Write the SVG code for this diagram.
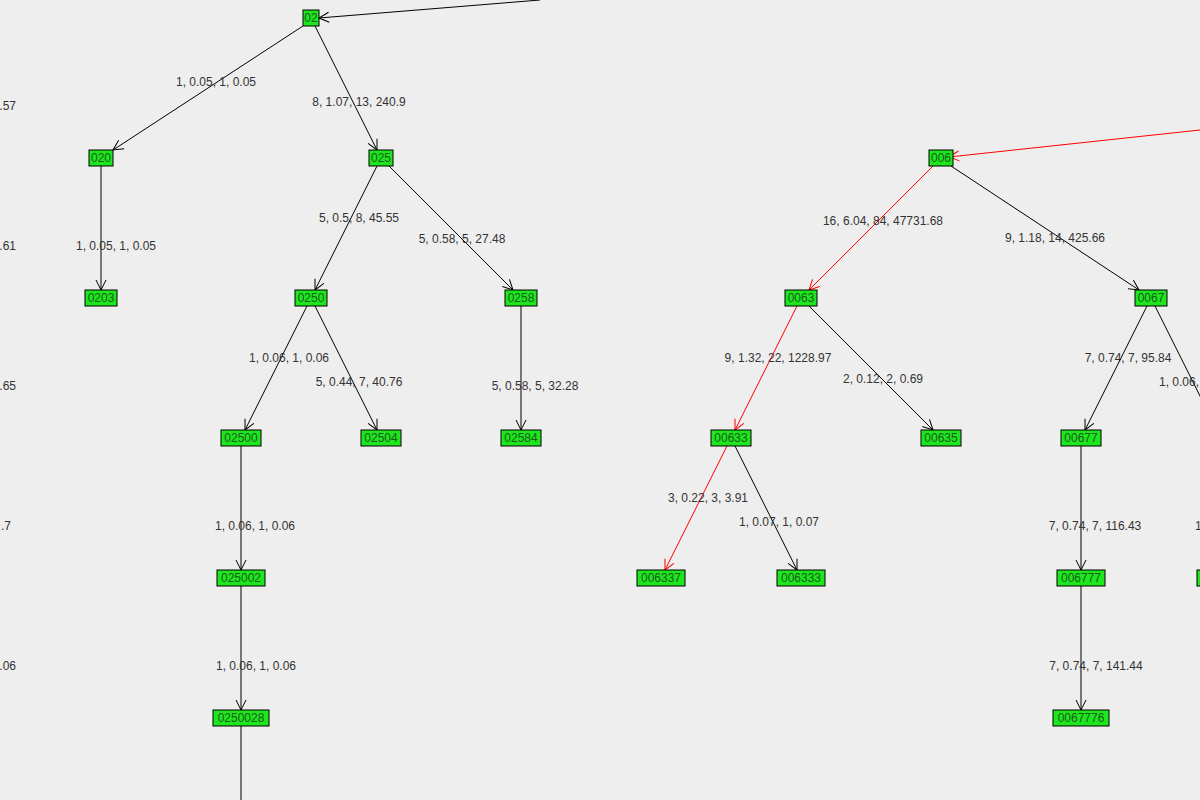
<svg xmlns="http://www.w3.org/2000/svg" width="1200" height="800" viewBox="0 0 1200 800">
<style>
.n rect{fill:#1ee61e;stroke:#000;stroke-width:1}
.n text{font-family:"Liberation Sans",Arial,sans-serif;font-size:12px;fill:#1a5a1a;text-anchor:middle}
.e line{stroke:#000;stroke-width:1;marker-end:url(#a)}
.e line.r{stroke:#f00;marker-end:url(#ar)}
.l text{font-family:"Liberation Sans",Arial,sans-serif;font-size:12px;fill:#333;text-anchor:middle}
</style>
<defs>
<marker id="a" viewBox="0 0 12 12" refX="11" refY="6" markerWidth="12" markerHeight="12" markerUnits="userSpaceOnUse" orient="auto"><path d="M1,1 L11,6 L1,11" fill="none" stroke="#000"/></marker>
<marker id="ar" viewBox="0 0 12 12" refX="11" refY="6" markerWidth="12" markerHeight="12" markerUnits="userSpaceOnUse" orient="auto"><path d="M1,1 L11,6 L1,11" fill="none" stroke="#f00"/></marker>
</defs>
<rect width="1200" height="800" fill="#eeeeee"/>
<g class="e" id="connectors">
<line x1="540" y1="0" x2="319" y2="18"/>
<line x1="1200" y1="130" x2="949" y2="157" class="r"/>
<line x1="303" y1="26" x2="113" y2="150"/>
<line x1="315" y1="26" x2="377" y2="150"/>
<line x1="101" y1="166" x2="101" y2="290"/>
<line x1="377" y1="166" x2="315" y2="290"/>
<line x1="389" y1="166" x2="513" y2="290"/>
<line x1="307" y1="306" x2="245" y2="430"/>
<line x1="315" y1="306" x2="377" y2="430"/>
<line x1="521" y1="306" x2="521" y2="430"/>
<line x1="241" y1="446" x2="241" y2="570"/>
<line x1="241" y1="586" x2="241" y2="710"/>
<line x1="241" y1="726" x2="241" y2="800" style="marker-end:none"/>
<line x1="933" y1="166" x2="809" y2="290" class="r"/>
<line x1="951" y1="166" x2="1139" y2="290"/>
<line x1="797" y1="306" x2="735" y2="430" class="r"/>
<line x1="809" y1="306" x2="933" y2="430"/>
<line x1="1147" y1="306" x2="1085" y2="430"/>
<line x1="1155" y1="306" x2="1221" y2="438" style="marker-end:none"/>
<line x1="727" y1="446" x2="665" y2="570" class="r"/>
<line x1="735" y1="446" x2="797" y2="570"/>
<line x1="1081" y1="446" x2="1081" y2="570"/>
<line x1="1081" y1="586" x2="1081" y2="710"/>
</g>
<g class="l" id="labels">
<text x="216" y="86">1, 0.05, 1, 0.05</text>
<text x="359" y="106">8, 1.07, 13, 240.9</text>
<text x="16" y="110" style="text-anchor:end">.57</text>
<text x="16" y="250" style="text-anchor:end">.61</text>
<text x="16" y="390" style="text-anchor:end">.65</text>
<text x="11" y="530" style="text-anchor:end">.7</text>
<text x="16" y="670" style="text-anchor:end">.06</text>
<text x="116" y="250">1, 0.05, 1, 0.05</text>
<text x="359" y="222">5, 0.5, 8, 45.55</text>
<text x="462" y="243">5, 0.58, 5, 27.48</text>
<text x="289" y="362">1, 0.06, 1, 0.06</text>
<text x="359" y="386">5, 0.44, 7, 40.76</text>
<text x="535" y="390">5, 0.58, 5, 32.28</text>
<text x="255" y="530">1, 0.06, 1, 0.06</text>
<text x="256" y="670">1, 0.06, 1, 0.06</text>
<text x="883" y="225">16, 6.04, 84, 47731.68</text>
<text x="1055" y="242">9, 1.18, 14, 425.66</text>
<text x="778" y="362">9, 1.32, 22, 1228.97</text>
<text x="883" y="383">2, 0.12, 2, 0.69</text>
<text x="708" y="502">3, 0.22, 3, 3.91</text>
<text x="779" y="526">1, 0.07, 1, 0.07</text>
<text x="1128" y="362">7, 0.74, 7, 95.84</text>
<text x="1159" y="386" style="text-anchor:start">1, 0.06, 1, 0.06</text>
<text x="1195" y="530" style="text-anchor:start">1, 0.06, 1, 0.06</text>
<text x="1095" y="530">7, 0.74, 7, 116.43</text>
<text x="1096" y="670">7, 0.74, 7, 141.44</text>
</g>
<g class="n" id="n02"><rect x="303" y="10" width="16" height="16"/><text x="311" y="22">02</text></g>
<g class="n" id="n020"><rect x="89" y="150" width="24" height="16"/><text x="101" y="162">020</text></g>
<g class="n" id="n025"><rect x="369" y="150" width="24" height="16"/><text x="381" y="162">025</text></g>
<g class="n" id="n0203"><rect x="85" y="290" width="32" height="16"/><text x="101" y="302">0203</text></g>
<g class="n" id="n0250"><rect x="295" y="290" width="32" height="16"/><text x="311" y="302">0250</text></g>
<g class="n" id="n0258"><rect x="505" y="290" width="32" height="16"/><text x="521" y="302">0258</text></g>
<g class="n" id="n02500"><rect x="221" y="430" width="40" height="16"/><text x="241" y="442">02500</text></g>
<g class="n" id="n02504"><rect x="361" y="430" width="40" height="16"/><text x="381" y="442">02504</text></g>
<g class="n" id="n02584"><rect x="501" y="430" width="40" height="16"/><text x="521" y="442">02584</text></g>
<g class="n" id="n025002"><rect x="217" y="570" width="48" height="16"/><text x="241" y="582">025002</text></g>
<g class="n" id="n0250028"><rect x="213" y="710" width="56" height="16"/><text x="241" y="722">0250028</text></g>
<g class="n" id="n006"><rect x="929" y="150" width="24" height="16"/><text x="941" y="162">006</text></g>
<g class="n" id="n0063"><rect x="785" y="290" width="32" height="16"/><text x="801" y="302">0063</text></g>
<g class="n" id="n0067"><rect x="1135" y="290" width="32" height="16"/><text x="1151" y="302">0067</text></g>
<g class="n" id="n00633"><rect x="711" y="430" width="40" height="16"/><text x="731" y="442">00633</text></g>
<g class="n" id="n00635"><rect x="921" y="430" width="40" height="16"/><text x="941" y="442">00635</text></g>
<g class="n" id="n00677"><rect x="1061" y="430" width="40" height="16"/><text x="1081" y="442">00677</text></g>
<g class="n" id="n006337"><rect x="637" y="570" width="48" height="16"/><text x="661" y="582">006337</text></g>
<g class="n" id="n006333"><rect x="777" y="570" width="48" height="16"/><text x="801" y="582">006333</text></g>
<g class="n" id="n006777"><rect x="1057" y="570" width="48" height="16"/><text x="1081" y="582">006777</text></g>
<g class="n" id="n0067776"><rect x="1053" y="710" width="56" height="16"/><text x="1081" y="722">0067776</text></g>
<g class="n" id="nright"><rect x="1197" y="570" width="48" height="16"/></g>
</svg>
